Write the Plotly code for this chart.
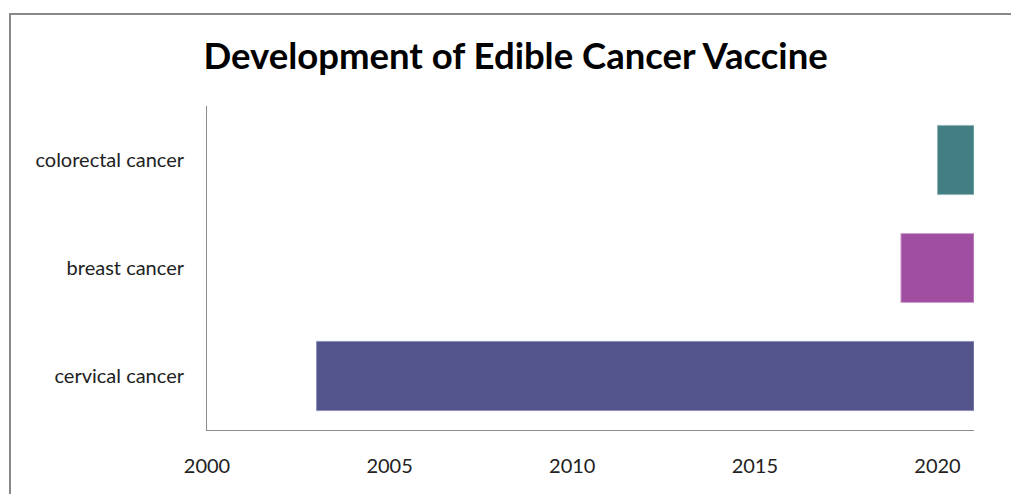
import plotly.graph_objects as go

# Cancer types and vaccine development period (start year -> end year)
cancers = ["cervical cancer", "breast cancer", "colorectal cancer"]
start_year = [2003, 2019, 2020]
end_year = [2021, 2021, 2021]
bar_colors = ["#52548A", "#A04EA0", "#437E82"]
edge_colors = ["#8E90BC", "#CFA0CF", "#8FB5B8"]

tick_years = [2000, 2005, 2010, 2015, 2020]

durations = [e - s for s, e in zip(start_year, end_year)]

fig = go.Figure()
fig.add_trace(go.Bar(
    y=cancers,
    x=durations,
    base=start_year,
    orientation="h",
    width=0.64,
    marker=dict(color=bar_colors, line=dict(color=edge_colors, width=1)),
    showlegend=False,
    hoverinfo="skip",
))

fig.update_layout(
    width=1011,
    height=494,
    paper_bgcolor="white",
    plot_bgcolor="white",
    margin=dict(l=207, r=37, t=106, b=64),
    font=dict(family="Lato, 'Open Sans', sans-serif", color="#333333"),
    title=dict(
        text="<b>Development of Edible Cancer Vaccine</b>",
        x=0.51,
        xref="container",
        xanchor="center",
        y=0.887,
        yanchor="middle",
        font=dict(size=36.5, color="#000000", family="Lato, sans-serif"),
    ),
    bargap=0.36,
)

fig.update_xaxes(
    range=[2000, 2021],
    tickvals=tick_years,
    ticktext=[str(t) for t in tick_years],
    showgrid=False,
    zeroline=False,
    showline=True,
    linecolor="#8C8C8C",
    linewidth=1,
    ticks="",
    ticklabelstandoff=18,
    tickfont=dict(size=20, color="#222222"),
)
fig.update_yaxes(
    categoryorder="array",
    categoryarray=cancers,
    showgrid=False,
    zeroline=False,
    showline=True,
    linecolor="#8C8C8C",
    linewidth=1,
    ticks="",
    ticklabelstandoff=18,
    tickfont=dict(size=20, color="#222222"),
)

# Outer chart frame
fig.add_shape(
    type="rect",
    xref="paper", yref="paper",
    x0=(10 - 207) / 767, x1=1.2,
    y0=-0.5, y1=(430 - 14) / 324,
    line=dict(color="#888888", width=2),
    fillcolor="rgba(0,0,0,0)",
    layer="below",
)

fig.write_html("out.html")
